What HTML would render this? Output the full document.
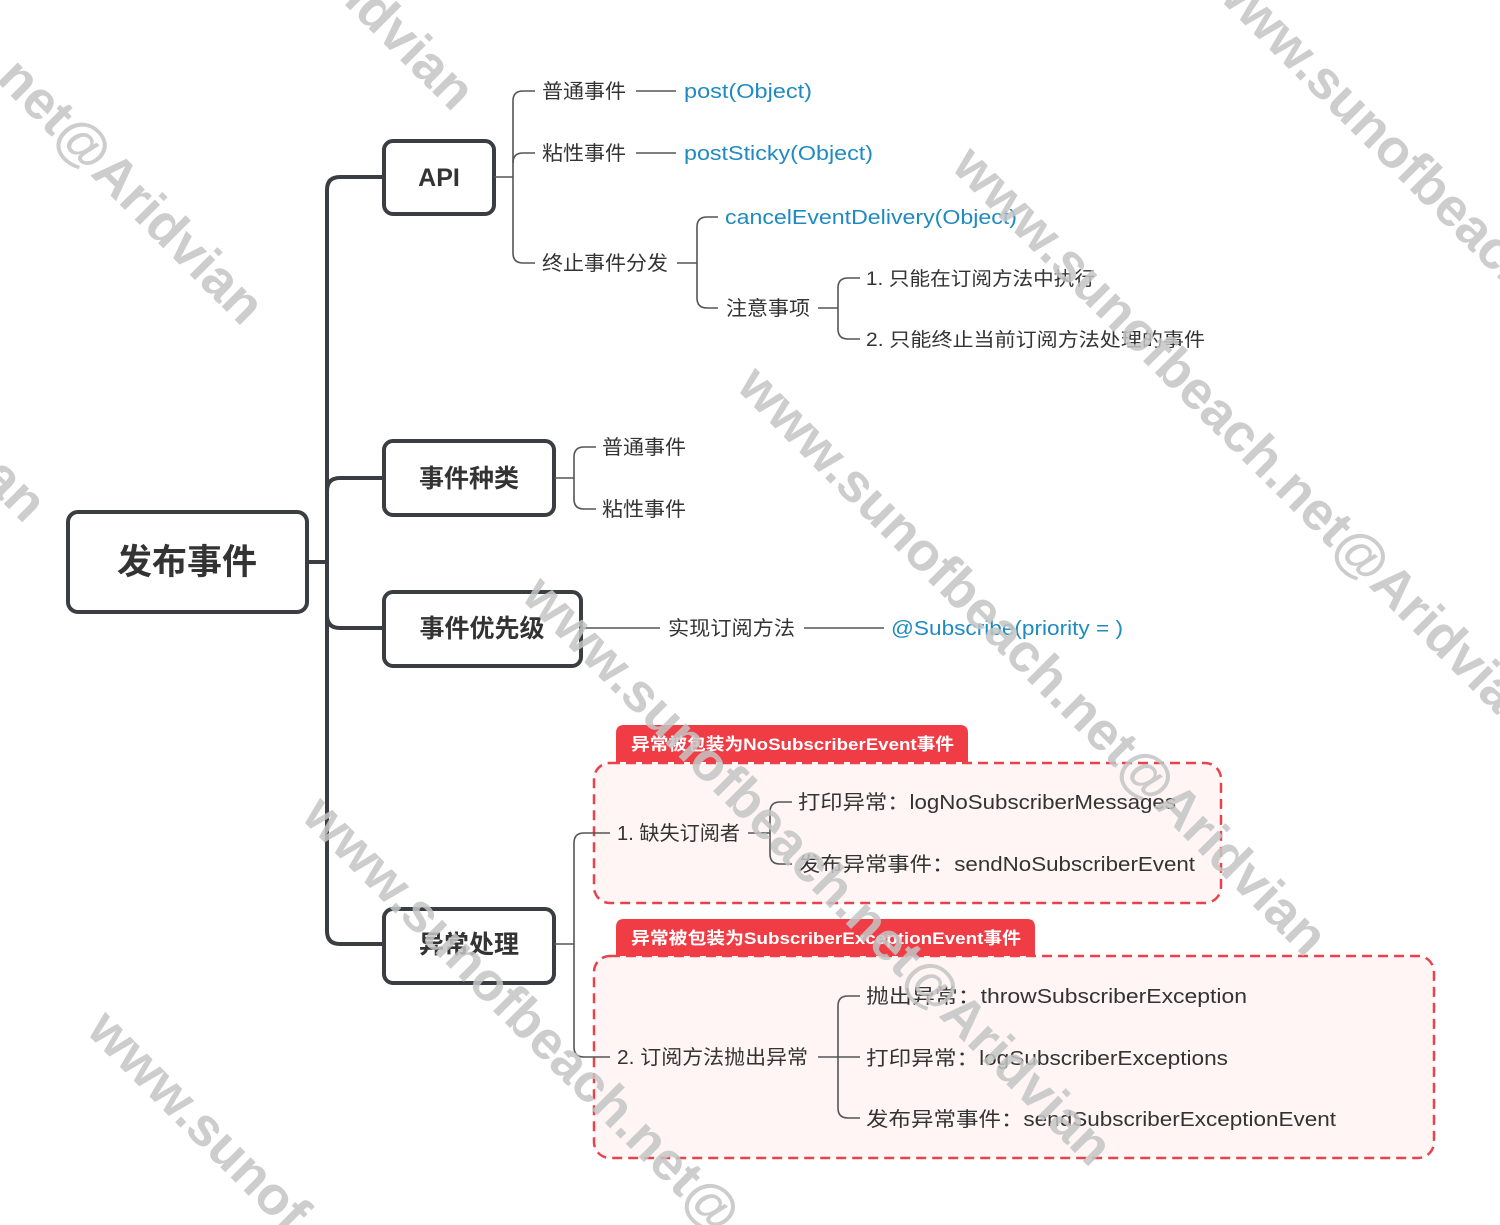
<!DOCTYPE html>
<html><head><meta charset="utf-8"><style>
html,body{margin:0;padding:0;background:#fff;width:1500px;height:1225px;overflow:hidden;}
svg{display:block;overflow:hidden;}
text{font-family:"Liberation Sans","Noto Sans CJK SC",sans-serif;}
</style></head><body>
<svg width="1500" height="1225" viewBox="0 0 1500 1225" xmlns="http://www.w3.org/2000/svg">
<defs><clipPath id="c"><rect x="0" y="0" width="1500" height="1225"/></clipPath></defs>
<g clip-path="url(#c)">
<rect x="594" y="763" width="627" height="140" rx="16" fill="#fff5f5" stroke="#e8424c" stroke-width="2.5" stroke-dasharray="10,6"/>
<rect x="594" y="956" width="840" height="202" rx="16" fill="#fff5f5" stroke="#e8424c" stroke-width="2.5" stroke-dasharray="10,6"/>
<path d="M616,762 V733 Q616,725 624,725 H960 Q968,725 968,733 V762 Z" fill="#f03c44"/>
<path d="M616,956 V927 Q616,919 624,919 H1027 Q1035,919 1035,927 V956 Z" fill="#f03c44"/>
<text x="631" y="750" font-size="17" font-weight="bold" fill="#fff" textLength="323" lengthAdjust="spacingAndGlyphs">异常被包装为NoSubscriberEvent事件</text>
<text x="631" y="944" font-size="17" font-weight="bold" fill="#fff" textLength="390" lengthAdjust="spacingAndGlyphs">异常被包装为SubscriberExceptionEvent事件</text>

<g fill="none" stroke="#3a3d42" stroke-width="4">
<path d="M307,562 H327"/>
<path d="M384,177 H340 Q327,177 327,190 V931 Q327,944 340,944 H384"/>
<path d="M327,491 Q327,478 340,478 H384"/>
<path d="M327,615 Q327,628 340,628 H384"/>
<rect x="68" y="512" width="239" height="100" rx="10" fill="#fff"/>
<rect x="384" y="141" width="110" height="73" rx="9" fill="#fff"/>
<rect x="384" y="441" width="170" height="74" rx="9" fill="#fff"/>
<rect x="384" y="592" width="197" height="74" rx="9" fill="#fff"/>
<rect x="384" y="909" width="170" height="74" rx="9" fill="#fff"/>
</g>
<g fill="none" stroke="#555" stroke-width="1.6">
<path d="M494,177 H513"/>
<path d="M535,91 H523 Q513,91 513,101 V253 Q513,263 523,263 H535"/>
<path d="M513,163 Q513,153 523,153 H535"/>
<path d="M636,91 H676 M636,153 H676"/>
<path d="M677,263 H697"/>
<path d="M718,217 H707 Q697,217 697,227 V298 Q697,308 707,308 H718"/>
<path d="M818,308 H838"/>
<path d="M860,278 H848 Q838,278 838,288 V329 Q838,339 848,339 H860"/>
<path d="M554,478 H574"/>
<path d="M596,447 H584 Q574,447 574,457 V499 Q574,509 584,509 H596"/>
<path d="M581,628 H660 M804,628 H884"/>
<path d="M554,944 H574"/>
<path d="M610,833 H584 Q574,833 574,843 V1047 Q574,1057 584,1057 H610"/>
<path d="M748,833 H770"/>
<path d="M792,802 H780 Q770,802 770,812 V854 Q770,864 780,864 H792"/>
<path d="M818,1057 H860"/>
<path d="M860,996 H848 Q838,996 838,1006 V1108 Q838,1118 848,1118 H860"/>
</g>

<g fill="#333">
<text x="187" y="574" font-size="35" font-weight="bold" text-anchor="middle">发布事件</text>
<text x="439" y="186" font-size="25" font-weight="bold" text-anchor="middle">API</text>
<text x="469" y="487" font-size="25" font-weight="bold" text-anchor="middle">事件种类</text>
<text x="482" y="637" font-size="25" font-weight="bold" text-anchor="middle">事件优先级</text>
<text x="469" y="953" font-size="25" font-weight="bold" text-anchor="middle">异常处理</text>
</g>
<g fill="#333" font-size="20">
<text x="542" y="98" textLength="84" lengthAdjust="spacingAndGlyphs">普通事件</text>
<text x="542" y="160" textLength="84" lengthAdjust="spacingAndGlyphs">粘性事件</text>
<text x="542" y="270" textLength="126" lengthAdjust="spacingAndGlyphs">终止事件分发</text>
<text x="726" y="315" textLength="84" lengthAdjust="spacingAndGlyphs">注意事项</text>
<text x="866" y="285" font-size="19" textLength="229" lengthAdjust="spacingAndGlyphs">1. 只能在订阅方法中执行</text>
<text x="866" y="346" font-size="19" textLength="339" lengthAdjust="spacingAndGlyphs">2. 只能终止当前订阅方法处理的事件</text>
<text x="602" y="454" textLength="84" lengthAdjust="spacingAndGlyphs">普通事件</text>
<text x="602" y="516" textLength="84" lengthAdjust="spacingAndGlyphs">粘性事件</text>
<text x="668" y="635" textLength="127" lengthAdjust="spacingAndGlyphs">实现订阅方法</text>
<text x="617" y="840" textLength="123" lengthAdjust="spacingAndGlyphs">1. 缺失订阅者</text>
<text x="798" y="809" textLength="378" lengthAdjust="spacingAndGlyphs">打印异常：logNoSubscriberMessages</text>
<text x="798" y="871" textLength="397" lengthAdjust="spacingAndGlyphs">发布异常事件：sendNoSubscriberEvent</text>
<text x="617" y="1064" textLength="191" lengthAdjust="spacingAndGlyphs">2. 订阅方法抛出异常</text>
<text x="866" y="1003" textLength="381" lengthAdjust="spacingAndGlyphs">抛出异常：throwSubscriberException</text>
<text x="866" y="1065" textLength="362" lengthAdjust="spacingAndGlyphs">打印异常：logSubscriberExceptions</text>
<text x="866" y="1126" textLength="470" lengthAdjust="spacingAndGlyphs">发布异常事件：sendSubscriberExceptionEvent</text>
</g>
<g fill="#1f8ac0" font-size="20">
<text x="684" y="98" textLength="128" lengthAdjust="spacingAndGlyphs">post(Object)</text>
<text x="684" y="160" textLength="189" lengthAdjust="spacingAndGlyphs">postSticky(Object)</text>
<text x="725" y="224" textLength="292" lengthAdjust="spacingAndGlyphs">cancelEventDelivery(Object)</text>
<text x="891" y="635" textLength="232" lengthAdjust="spacingAndGlyphs">@Subscribe(priority = )</text>
</g>

<g fill="#c4c4c4" fill-opacity="0.85" font-size="54" font-weight="bold">
<text transform="translate(-5,80) rotate(45)">net@Aridvian</text>
<text transform="translate(300,-40) rotate(45)">Aridvian</text>
<text transform="translate(1205,-15) rotate(45)">www.sunofbeach.net</text>
<text transform="translate(950,168) rotate(45)">www.sunofbeach.net@Aridvian</text>
<text transform="translate(735,388) rotate(45)">www.sunofbeach.net@Aridvian</text>
<text transform="translate(520,598) rotate(45)">www.sunofbeach.net@Aridvian</text>
<text transform="translate(300,818) rotate(45)">www.sunofbeach.net@</text>
<text transform="translate(85,1032) rotate(45)">www.sunof</text>
<text transform="translate(-20,480) rotate(45)">an</text>
</g>
</g>
</svg>
</body></html>
